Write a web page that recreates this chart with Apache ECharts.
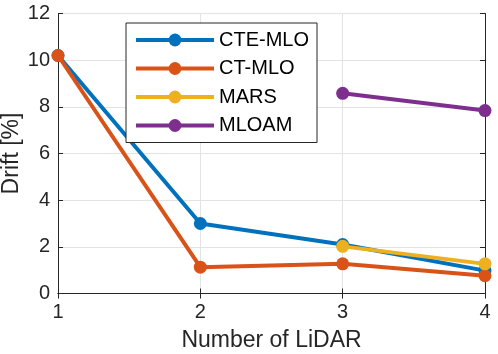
<!DOCTYPE html>
<html><head><meta charset="utf-8">
<script src="https://cdn.jsdelivr.net/npm/echarts@6/dist/echarts.min.js"></script>
<style>html,body{margin:0;padding:0;background:#fff}#c{width:498px;height:354px}</style>
</head><body><div id="c"></div>
<script>
const xValues = [1, 2, 3, 4];
const cteMlo = [10.2, 3.0, 2.1, 0.98];
const ctMlo = [10.2, 1.13, 1.27, 0.76];
const mars = [null, null, 2.02, 1.27];
const mloam = [null, null, 8.58, 7.84];
const seriesNames = ['CTE-MLO', 'CT-MLO', 'MARS', 'MLOAM'];
const colors = ['#0072BD', '#D95319', '#EDB120', '#7E2F8E'];

const pairs = arr => xValues.map((x, i) => [x, arr[i]]).filter(p => p[1] !== null);
const dataSets = [cteMlo, ctMlo, mars, mloam];
const font = 'Liberation Sans, Arial, Helvetica, sans-serif';
const axisColor = '#262626';

const chart = echarts.init(document.getElementById('c'), null, {renderer: 'canvas'});
const baseX = {
  type: 'value', min: 1, max: 4, interval: 1,
  axisLine: {show: true, lineStyle: {color: axisColor, width: 1}},
  axisTick: {show: true, inside: true, length: 5, lineStyle: {color: axisColor}},
  splitLine: {show: false}
};
const baseY = {
  type: 'value', min: 0, max: 12, interval: 2,
  axisLine: {show: true, lineStyle: {color: axisColor, width: 1}},
  axisTick: {show: true, inside: true, length: 5, lineStyle: {color: axisColor}},
  splitLine: {show: false}
};
chart.setOption({
  animation: false,
  color: colors,
  grid: {left: 58, right: 13, top: 13.5, bottom: 60.5, containLabel: false, outerBoundsMode: 'none'},
  xAxis: [
    Object.assign({}, baseX, {
      position: 'bottom',
      name: 'Number of LiDAR', nameLocation: 'middle', nameGap: 36, nameMoveOverlap: false,
      nameTextStyle: {fontFamily: font, fontSize: 23, color: axisColor},
      axisLabel: {fontFamily: font, fontSize: 20, color: axisColor, margin: 9},
      splitLine: {show: true, lineStyle: {color: '#e3e3e3', width: 1}}
    }),
    Object.assign({}, baseX, {position: 'top', axisLabel: {show: false}})
  ],
  yAxis: [
    Object.assign({}, baseY, {
      position: 'left',
      name: 'Drift [%]', nameLocation: 'middle', nameGap: 35, nameMoveOverlap: false,
      nameTextStyle: {fontFamily: font, fontSize: 23, color: axisColor},
      axisLabel: {fontFamily: font, fontSize: 20, color: axisColor, margin: 8},
      splitLine: {show: true, lineStyle: {color: '#e3e3e3', width: 1}}
    }),
    Object.assign({}, baseY, {position: 'right', axisLabel: {show: false}})
  ],
  legend: {
    orient: 'vertical', left: 126, top: 23,
    backgroundColor: '#fff', borderColor: axisColor, borderWidth: 1,
    padding: [7, 8, 7, 8],
    itemWidth: 78, itemHeight: 16, itemGap: 8.5,
    lineStyle: {width: 4},
    textStyle: {fontFamily: font, fontSize: 20, color: '#000'},
    data: seriesNames
  },
  series: seriesNames.map((n, i) => ({
    name: n, type: 'line', data: pairs(dataSets[i]),
    symbol: 'circle', symbolSize: 13, showSymbol: true,
    lineStyle: {width: 4, color: colors[i]},
    itemStyle: {color: colors[i]},
    z: 2 + i
  }))
});
</script></body></html>
